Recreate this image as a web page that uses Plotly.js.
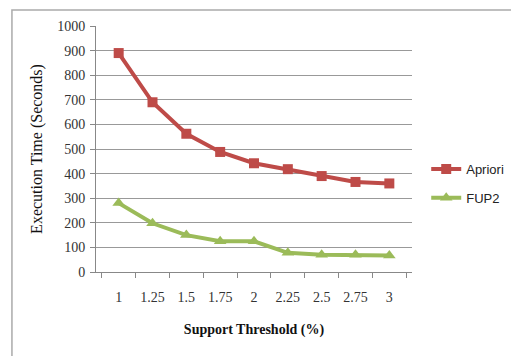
<!DOCTYPE html>
<html>
<head>
<meta charset="utf-8">
<script src="https://cdn.plot.ly/plotly-3.0.1.min.js"></script>
<style>html,body{margin:0;padding:0;background:#fff;}#chart{width:511px;height:356px;}</style>
</head>
<body>
<div id="chart"></div>
<script>
const categories = ["1", "1.25", "1.5", "1.75", "2", "2.25", "2.5", "2.75", "3"];
const aprioriValues = [890, 690, 562, 488, 442, 418, 390, 366, 360];
const fup2Values = [280, 198, 150, 125, 125, 78, 70, 70, 67];
const yTicks = [0, 100, 200, 300, 400, 500, 600, 700, 800, 900, 1000];

const traces = [
  {
    x: categories, y: aprioriValues, name: "Apriori", type: "scatter", mode: "lines+markers",
    line: {color: "#BE4B48", width: 4}, marker: {symbol: "square", size: 10, color: "#BE4B48"},
    legendgroup: "a"
  },
  {
    x: categories, y: fup2Values, name: "FUP2", type: "scatter", mode: "lines+markers",
    line: {color: "#9BBB59", width: 4}, marker: {symbol: "triangle-up", size: 11, color: "#9BBB59"},
    legendgroup: "b"
  }
];

const serif = "Liberation Serif, Times New Roman, serif";
const layout = {
  width: 511, height: 356,
  margin: {l: 96, r: 99, t: 26, b: 84, autoexpand: false},
  paper_bgcolor: "#fff", plot_bgcolor: "#fff",
  showlegend: true,
  legend: {x: 1.045, xanchor: "left", y: 0.36, yanchor: "middle", traceorder: "grouped", tracegroupgap: 9,
           font: {family: "Liberation Sans Narrow, Liberation Sans, Arial, sans-serif", size: 13, color: "#222"}, itemwidth: 30},
  xaxis: {
    type: "category", tickson: "boundaries", ticks: "outside", ticklen: 5, tickcolor: "#888",
    showline: true, linecolor: "#888", showgrid: false, zeroline: false,
    ticklabelstandoff: 12,
    tickfont: {family: serif, size: 14, color: "#333"},
    title: {text: "<b>Support Threshold (%)</b>", standoff: 20,
            font: {family: serif, size: 14, color: "#111"}}
  },
  yaxis: {
    range: [0, 1000], tickvals: yTicks, ticks: "outside", ticklen: 5, tickcolor: "#888",
    showline: true, linecolor: "#888", showgrid: true, gridcolor: "#999", gridwidth: 1, zeroline: false,
    ticklabelstandoff: 2,
    tickfont: {family: serif, size: 14, color: "#333"},
    title: {text: "Execution Time (Seconds)", standoff: 10,
            font: {family: serif, size: 16, color: "#111"}}
  },
  shapes: [
    {type: "rect", xref: "paper", yref: "paper", x0: -0.266, x1: 1.32, y0: -0.42, y1: 1.065,
     line: {color: "#aaa", width: 1.5}, fillcolor: "rgba(0,0,0,0)", layer: "below"}
  ]
};

Plotly.newPlot("chart", traces, layout, {staticPlot: true, displayModeBar: false});
</script>
</body>
</html>
